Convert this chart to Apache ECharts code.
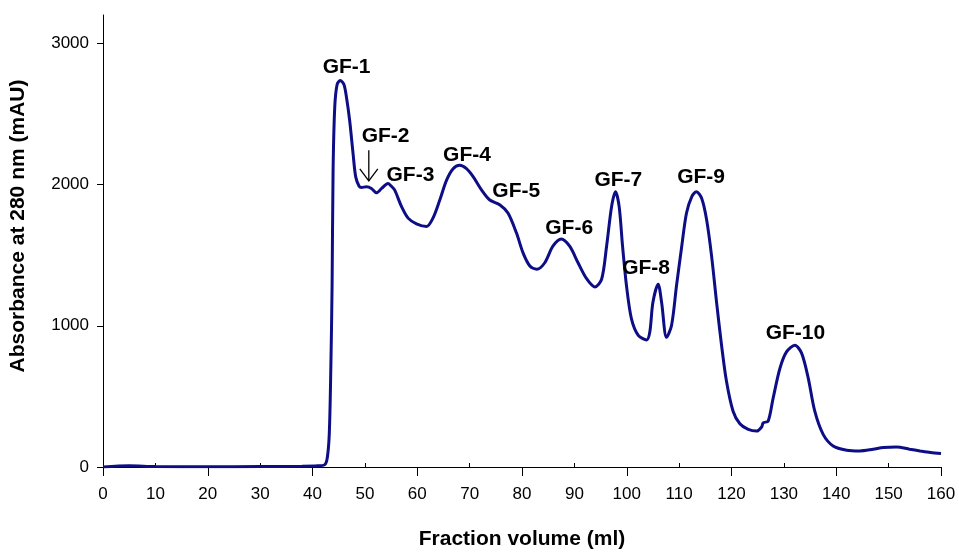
<!DOCTYPE html>
<html>
<head>
<meta charset="utf-8">
<script src="https://cdn.jsdelivr.net/npm/echarts@6/dist/echarts.min.js"></script>
<style>html,body{margin:0;padding:0;background:#fff}#c{width:959px;height:555px}</style>
</head>
<body>
<div id="c"></div>
<script>
// Fraction volume (ml)
const volume = [0,5,10,20,30,38,41,42.3,42.8,43.2,43.5,43.74,43.93,44.25,44.7,45.3,46.0,46.5,47.1,47.75,48.25,48.9,49.35,50.3,51.25,52.2,53.2,54.4,55.0,55.7,57.0,58.25,59.85,61.8,63.0,64.3,65.6,66.85,68.1,69.4,70.7,72.3,73.85,75.8,77.35,78.95,80.2,81.5,82.8,84.35,85.9,87.5,89.1,90.7,92.3,93.9,95.2,96.15,97.1,97.85,98.55,99.2,99.95,100.9,102.2,103.8,104.4,105.0,106.0,106.65,107.6,108.55,109.5,110.5,111.4,112.4,113.3,114.3,115.25,116.2,117.15,118.1,119.05,120.3,121.6,123.2,124.8,125.75,126.05,127.0,127.95,129.25,130.5,132.1,133.4,134.65,135.9,137.5,139.4,142.0,144.5,147.05,149,151.5,154,156,158,160];
// Absorbance at 280 nm (mAU)
const absorbance = [0,8,3,2,3,5,8,15,60,231,700,1283,2100,2550,2708,2736,2708,2614,2451,2217,2054,1988,1979,1984,1972,1941,1972,2007,1990,1960,1843,1762,1722,1703,1762,1890,2031,2112,2136,2112,2054,1960,1890,1855,1797,1656,1516,1423,1400,1446,1563,1614,1563,1446,1335,1275,1329,1563,1843,1949,1843,1563,1283,1049,932,900,955,1166,1294,1166,918,1002,1283,1563,1797,1913,1949,1902,1750,1493,1166,862,605,395,306,266,254,283,313,325,488,699,815,862,804,629,395,231,149,119,114,126,138,142,126,114,103,96];

// Peak annotations (anchored in data units)
const peakNames = ['GF-1','GF-2','GF-3','GF-4','GF-5','GF-6','GF-7','GF-8','GF-9','GF-10'];
const peakLabelX = [46.5,53.95,58.7,69.5,78.9,89.0,98.4,103.7,114.2,132.2];
const peakLabelY = [2831,2340,2066,2204,1956,1693,2031,1405,2054,950];
// Arrow pointing to GF-2: [x, yStart, yEnd]
const arrowGF2 = [[50.75, 2243, 2026]];

const xTickLabels = [0,10,20,30,40,50,60,70,80,90,100,110,120,130,140,150,160];
const xMajorTicks = [0,20,40,60,80,100,120,140,160];
const xMinorTicks = [10,30,50,70,90,110,130,150];
const yTicks = [0,1000,2000,3000];

const FONT = 'Liberation Sans, Arial, sans-serif';
const chart = echarts.init(document.getElementById('c'), null, {renderer:'canvas'});
chart.setOption({
  animation:false,
  backgroundColor:'#ffffff',
  grid:{left:103, right:18, top:15, bottom:82, containLabel:false},
  xAxis:[{
    type:'value', min:0, max:160, interval:10, position:'bottom',
    name:'Fraction volume (ml)', nameLocation:'middle', nameGap:62,
    nameTextStyle:{fontFamily:FONT, fontWeight:'bold', fontSize:21, color:'#000'},
    axisLine:{onZero:false, lineStyle:{color:'#000', width:1}},
    axisTick:{show:true, customValues:xMajorTicks, length:9, inside:false, lineStyle:{color:'#000'}},
    axisLabel:{customValues:xTickLabels, margin:19, fontFamily:FONT, fontSize:17, color:'#000'},
    splitLine:{show:false}
  },{
    type:'value', min:0, max:160, position:'bottom', offset:0,
    axisLine:{show:false, onZero:false},
    axisTick:{show:true, customValues:xMinorTicks, length:4, inside:true, lineStyle:{color:'#000'}},
    axisLabel:{show:false},
    splitLine:{show:false}
  }],
  yAxis:{
    type:'value', min:0, max:3200, interval:1000,
    name:'Absorbance at 280 nm (mAU)', nameLocation:'middle', nameGap:74, nameRotate:90,
    nameTextStyle:{fontFamily:FONT, fontWeight:'bold', fontSize:21, color:'#000', padding:[0,0,0,30]},
    axisLine:{show:true, lineStyle:{color:'#000', width:1}},
    axisTick:{show:true, customValues:yTicks, length:6, lineStyle:{color:'#000'}},
    axisLabel:{customValues:yTicks, margin:14, fontFamily:FONT, fontSize:17, color:'#000', formatter:function(v){return String(v);}},
    splitLine:{show:false}
  },
  series:[{
    type:'line', xAxisIndex:0,
    data: volume.map((v,i)=>[v, absorbance[i]]),
    showSymbol:false, smooth:0.3,
    lineStyle:{color:'#0d0d86', width:3},
    z:3
  },{
    type:'scatter', xAxisIndex:0,
    data: peakNames.map((n,i)=>({name:n, value:[peakLabelX[i], peakLabelY[i]]})),
    symbolSize:0, itemStyle:{color:'#000', opacity:1},
    label:{show:true, position:[0,0], align:'center', verticalAlign:'middle', formatter:'{b}', fontFamily:FONT, fontWeight:'bold', fontSize:21, color:'#000', opacity:1, textBorderWidth:0},
    emphasis:{disabled:true},
    z:4
  },{
    type:'custom', xAxisIndex:0,
    data: arrowGF2,
    renderItem:function(params, api){
      const a = api.coord([api.value(0), api.value(1)]);
      const b = api.coord([api.value(0), api.value(2)]);
      return {type:'group', children:[
        {type:'line', shape:{x1:a[0], y1:a[1], x2:b[0], y2:b[1]}, style:{stroke:'#000', lineWidth:1.3}},
        {type:'polyline', shape:{points:[[b[0]-9,b[1]-12],[b[0],b[1]],[b[0]+9,b[1]-12]]}, style:{stroke:'#000', lineWidth:1.3, fill:null}}
      ]};
    },
    z:4
  }]
});
</script>
</body>
</html>
